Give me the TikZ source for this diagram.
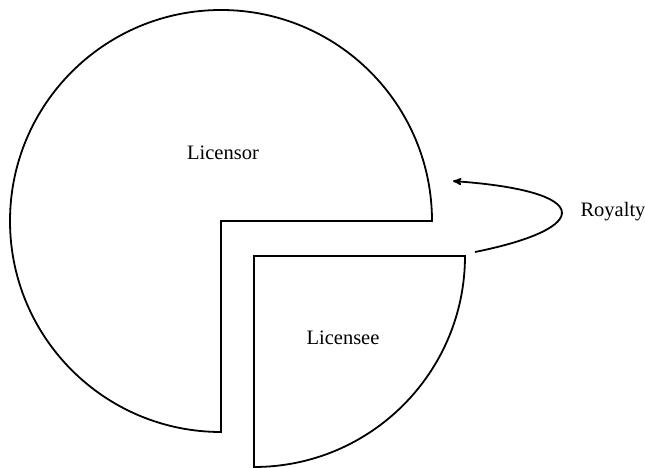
\documentclass[tikz,border=0pt]{standalone}
\usepackage{fontspec}
\setmainfont{Liberation Serif}
\usetikzlibrary{arrows}
\tikzset{
    x=1pt,
    y=1pt,
    >=stealth',
    slice/.style={draw, line width=1.8pt, line join=miter},
    share/.style={font=\fontsize{20.5}{24}\selectfont},
    payment/.style={->, line width=1.8pt, shorten >=1pt},
}

\begin{document}
\begin{tikzpicture}
    \useasboundingbox (0,0) rectangle (645,468);

    % the two slices of the pie
    \coordinate (c1) at (221,247);
    \coordinate (c2) at (254,212);
    \draw[slice] (c1) -- ++(211,0) arc[start angle=0, end angle=270, radius=211] -- cycle;
    \draw[slice] (c2) -- ++(211,0) arc[start angle=0, end angle=-90, radius=211] -- cycle;

    \node[share] (licensor) at (223,315) {Licensor};
    \node[share] (licensee) at (343,130) {Licensee};
    \node[share, anchor=west] (royalty) at (577,256) {Royalty};

    % payment flowing back
    \coordinate (payfrom) at (475,216);
    \coordinate (payto) at (452,287);
    \draw[payment] (payfrom) .. controls (594,240) and (594,277) .. (payto);
\end{tikzpicture}
\end{document}
